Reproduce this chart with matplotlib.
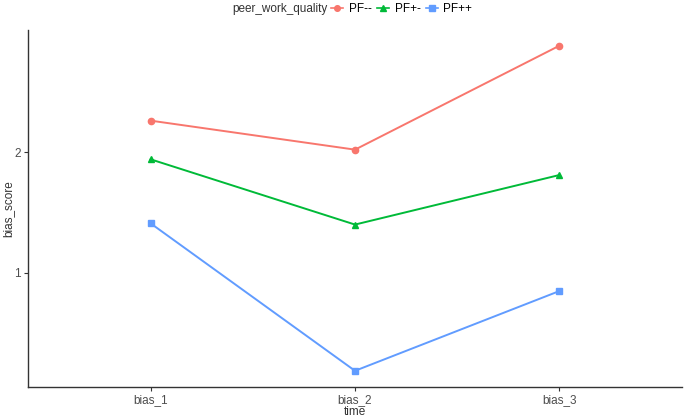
import numpy as np
import matplotlib
matplotlib.use("Agg")
from matplotlib import pyplot as plt

plt.rcParams['font.family'] = ['Liberation Sans', 'DejaVu Sans']

# data
times = ["bias_1", "bias_2", "bias_3"]
groups = ["PF--", "PF+-", "PF++"]
pf_mm = [2.26, 2.02, 2.88]
pf_pm = [1.94, 1.40, 1.81]
pf_pp = [1.41, 0.19, 0.85]

colors = ["#F8766D", "#00BA38", "#619CFF"]
markers = ["o", "^", "s"]

fig = plt.figure(figsize=(6.85, 4.2), dpi=100)
ax = fig.add_axes([28/685, 33/420, 654/685, 357/420])

x = np.arange(1, len(times) + 1)
for vals, lab, col, mk in zip([pf_mm, pf_pm, pf_pp], groups, colors, markers):
    ax.plot(x, vals, color=col, marker=mk, markersize=4.5, linewidth=1.4, label=lab)

ax.set_xlim(0.4, 3.6)
ax.set_ylim(0.056, 3.01)
ax.set_xticks(x)
ax.set_xticklabels(times)
ax.set_yticks([1, 2])
for s in ["top", "right"]:
    ax.spines[s].set_visible(False)
for s in ["left", "bottom"]:
    ax.spines[s].set_color("#333333")
    ax.spines[s].set_linewidth(1.0)
ax.tick_params(labelsize=8.5, colors="#333333", length=3, labelcolor="#4D4D4D", pad=2)
ax.set_xlabel("time", fontsize=8.5, labelpad=0, color="#333333")
ax.set_ylabel("bias_score", fontsize=8.5, color="#333333")
ax.yaxis.set_label_coords(-0.021, 0.5)

# legend on one line at the top: title then entries
fig.text(232/685, 1 - 9/420, "peer_work_quality", fontsize=8.5,
         ha="left", va="center", color="#333333")
leg = ax.legend(ncol=3, loc="center left", bbox_to_anchor=(331/685, 1 - 9/420),
                bbox_transform=fig.transFigure, frameon=False, fontsize=8.5,
                handlelength=1.05, columnspacing=0.45, handletextpad=0.45,
                borderaxespad=0, borderpad=0, markerscale=0.9)
for line in leg.get_lines():
    line.set_linewidth(1.2)

fig.savefig("out.png", dpi=100)
